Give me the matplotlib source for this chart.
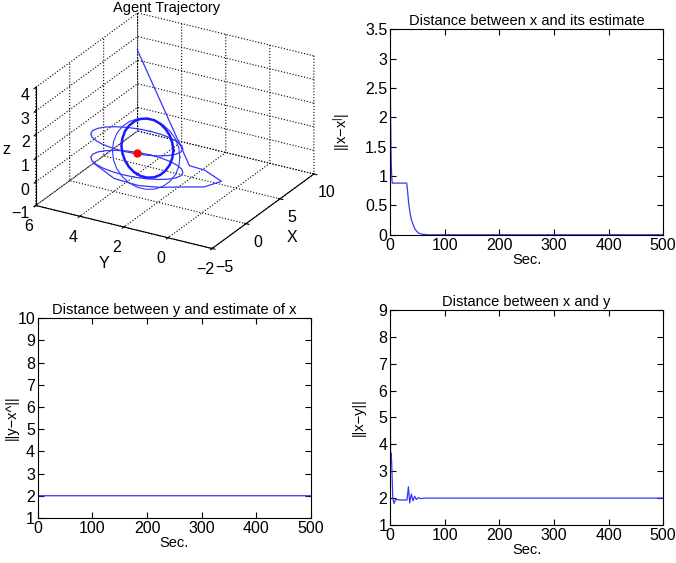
import matplotlib
matplotlib.use("Agg")
import matplotlib.pyplot as plt
from matplotlib.ticker import FormatStrFormatter

plt.rcParams['font.family'] = ['Liberation Sans', 'DejaVu Sans']
plt.rcParams['font.size'] = 10
plt.rcParams['mathtext.fontset'] = 'custom'
plt.rcParams['mathtext.rm'] = 'Liberation Sans'
plt.rcParams['grid.linestyle'] = ':'
plt.rcParams['grid.color'] = 'black'
plt.rcParams['grid.linewidth'] = 0.8

# Traiettoria 3D (valori stimati dall'immagine)
approach_x = [8.0, 0.6, 0.86, 0.14, -1.0, -1.8, -2.7, -3.2, -3.2, -1.8]
approach_y = [5.4, 0.75, 0.15, -0.84, -0.4, 0.34, 1.1, 1.9, 3.0, 4.37]
approach_z = [3.0, 0.7, 0.6, 0.5, 0.4, 0.4, 0.4, 0.4, 0.45, 0.5]

flat_x = [1.5, 1.43, 1.23, 0.91, 0.5, 0.02, -0.5, -1.02, -1.5, -1.91, -2.23, -2.43, -2.5,
          -2.43, -2.23, -1.91, -1.5, -1.02, -0.5, 0.02, 0.5, 0.91, 1.23, 1.43, 1.5]
flat_y = [2.8, 3.32, 3.8, 4.21, 4.53, 4.73, 4.8, 4.73, 4.53, 4.21, 3.8, 3.32, 2.8,
          2.28, 1.8, 1.39, 1.07, 0.87, 0.8, 0.87, 1.07, 1.39, 1.8, 2.28, 2.8]
upper_z = [1.5] * 25
lower_z = [0.5] * 25

ring_x = [0.33, 0.31, 0.25, 0.16, 0.04, -0.10, -0.25, -0.40, -0.54, -0.66, -0.75, -0.80, -0.83,
          -0.80, -0.75, -0.66, -0.54, -0.40, -0.25, -0.10, 0.04, 0.16, 0.25, 0.31, 0.33]
ring_y = [1.40, 1.44, 1.54, 1.70, 1.90, 2.14, 2.40, 2.66, 2.90, 3.10, 3.26, 3.36, 3.40,
          3.36, 3.26, 3.10, 2.90, 2.66, 2.40, 2.14, 1.90, 1.70, 1.54, 1.44, 1.40]
ring_z = [1.25, 1.57, 1.88, 2.13, 2.33, 2.46, 2.50, 2.46, 2.33, 2.13, 1.88, 1.57, 1.25,
          0.93, 0.63, 0.37, 0.17, 0.04, 0.00, 0.04, 0.17, 0.37, 0.63, 0.93, 1.25]

ring2_x = [0.65, 0.62, 0.55, 0.43, 0.28, 0.09, -0.1, -0.29, -0.48, -0.63, -0.75, -0.82, -0.85,
           -0.82, -0.75, -0.63, -0.48, -0.29, -0.1, 0.09, 0.28, 0.43, 0.55, 0.62, 0.65]
ring2_y = [1.20, 1.24, 1.37, 1.58, 1.85, 2.16, 2.5, 2.84, 3.15, 3.42, 3.63, 3.76, 3.80,
           3.76, 3.63, 3.42, 3.15, 2.84, 2.5, 2.16, 1.85, 1.58, 1.37, 1.24, 1.20]
ring2_z = [0.95, 1.34, 1.70, 2.01, 2.25, 2.40, 2.45, 2.40, 2.25, 2.01, 1.70, 1.34, 0.95,
           0.56, 0.20, -0.11, -0.35, -0.50, -0.55, -0.50, -0.35, -0.11, 0.20, 0.56, 0.95]

target = [-0.5, 2.8, 1.0]

# Serie temporali
t_est = [0, 1, 2, 3, 4, 30.5, 32, 34, 36.6, 39, 42.7, 46, 52, 58, 70, 100, 500]
err_est = [3.22, 2.0, 1.3, 1.0, 0.88, 0.88, 0.75, 0.55, 0.37, 0.26, 0.16, 0.09, 0.03, 0.01, 0.0, 0.0, 0.0]

t_yest = [0, 0.5, 500]
d_yest = [10, 2.0, 2.0]

t_xy = [0, 1, 2, 3, 5, 7.3, 10, 20, 31, 33.6, 36, 39, 42, 45, 48, 52, 56, 62, 100, 500]
d_xy = [9.0, 3.3, 3.68, 3.3, 2.0, 1.8, 1.95, 1.93, 1.93, 2.42, 1.82, 2.15, 1.9, 2.07, 1.95, 2.02, 1.98, 2.0, 2.0, 2.0]

blue = '#3535ff'
tick_fs = 11.5
label_fs = 10.5
title_fs = 10.5

fig = plt.figure(figsize=(6.76, 5.63), dpi=100)

# --- 3D ---
ax3 = fig.add_axes([-0.02, 0.488, 0.545, 0.545], projection='3d')
ax3.set_proj_type('ortho')
ax3.view_init(elev=25, azim=-150)
ax3.set_box_aspect((1, 1, 0.64))
ax3.plot(approach_x, approach_y, approach_z, color=blue, lw=0.9)
ax3.plot(flat_x, flat_y, lower_z, color=blue, lw=0.9)
ax3.plot(flat_x, flat_y, upper_z, color=blue, lw=0.9)
ax3.plot(ring2_x, ring2_y, ring2_z, color=blue, lw=0.8)
ax3.plot(ring_x, ring_y, ring_z, color='#1a1aff', lw=1.8)
ax3.scatter([target[0]], [target[1]], [target[2]], color='red', s=25, depthshade=False)
ax3.set_xlim(-5, 10)
ax3.set_ylim(-2, 6)
ax3.set_zlim(-1, 4)
ax3.set_xticks([-5, 0, 5, 10])
ax3.set_yticks([-2, 0, 2, 4, 6])
ax3.set_zticks([-1, 0, 1, 2, 3, 4])
ax3.set_xlabel('X', labelpad=-2, fontsize=tick_fs)
ax3.set_ylabel('Y', labelpad=1, fontsize=tick_fs)
ax3.set_zlabel('z', labelpad=-9, fontsize=tick_fs)
for a in (ax3.xaxis, ax3.yaxis, ax3.zaxis):
    a.pane.set_fill(False)
    a.pane.set_edgecolor('none')
ax3.tick_params(pad=0, labelsize=tick_fs)
ax3.zaxis.set_tick_params(pad=-5.5)
for lab in ax3.get_zticklabels():
    lab.set_horizontalalignment('right')
fig.text(0.247, 0.985, 'Agent Trajectory', ha='center', va='center', fontsize=title_fs)

# --- 2D ---
def style(ax, title, ylabel, xlab_x):
    ax.set_title(title, fontsize=title_fs, pad=3)
    ax.set_xlabel('Sec.', labelpad=0, fontsize=label_fs)
    ax.set_ylabel(ylabel, fontsize=label_fs)
    ax.yaxis.set_label_coords(xlab_x, 0.5)
    ax.set_xlim(0, 500)
    ax.tick_params(direction='in', top=True, right=True, length=4, labelsize=tick_fs, pad=2)
    ax.yaxis.set_major_formatter(FormatStrFormatter('%g'))

ax1 = fig.add_axes([0.577, 0.583, 0.404, 0.365])
ax1.plot(t_est, err_est, color=blue, lw=0.9)
style(ax1, 'Distance between x and its estimate', r'$\mathregular{||x{-}x^{|}|}$', -0.139)
ax1.set_ylim(0, 3.5)
ax1.set_yticks([0, 0.5, 1, 1.5, 2, 2.5, 3, 3.5])

ax2 = fig.add_axes([0.056, 0.080, 0.404, 0.355])
ax2.plot(t_yest, d_yest, color=blue, lw=0.9)
style(ax2, 'Distance between y and estimate of x', '||y\u2212x^||', -0.07)
ax2.set_ylim(1, 10)
ax2.set_yticks(range(1, 11))

ax4 = fig.add_axes([0.577, 0.0675, 0.404, 0.382])
ax4.plot(t_xy, d_xy, color=blue, lw=0.9)
style(ax4, 'Distance between x and y', '||x\u2212y||', -0.09)
ax4.set_ylim(1, 9)
ax4.set_yticks(range(1, 10))

fig.savefig('out.png', dpi=100)
